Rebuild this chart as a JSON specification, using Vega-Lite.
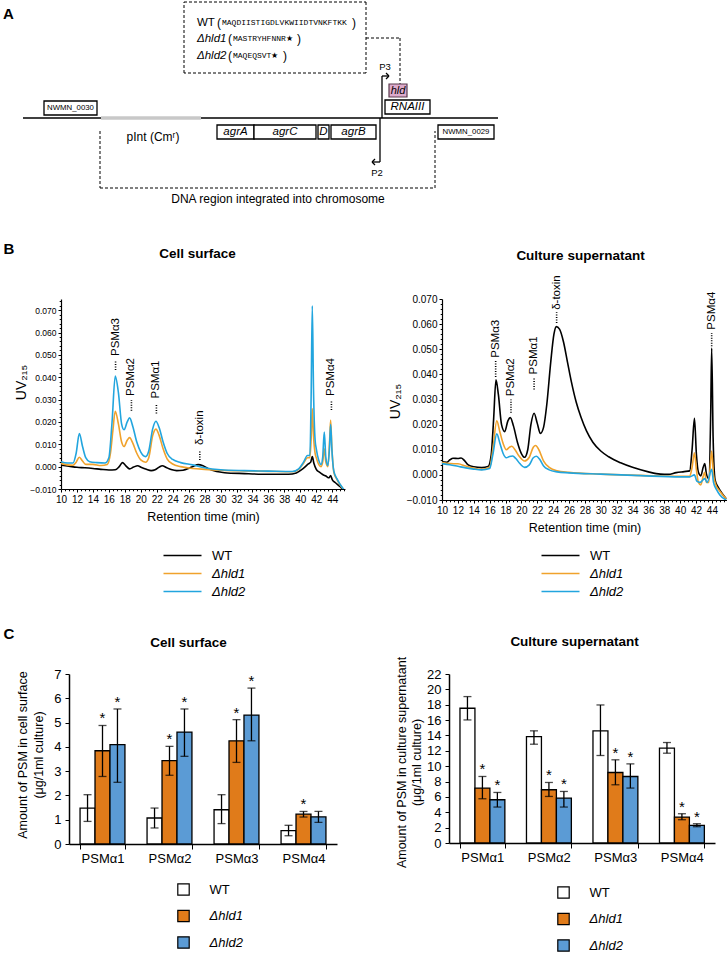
{
"$schema": "https://vega.github.io/schema/vega-lite/v6.json",
"padding": {"left": 3, "top": 0, "right": 0, "bottom": 0},
"spacing": 27,
"config": {
  "font": "Liberation Sans",
  "view": {"stroke": null},
  "axis": {"domainColor": "#000", "tickColor": "#000", "labelColor": "#000", "titleColor": "#000", "grid": false, "titleFontWeight": "normal", "domainWidth": 1.2, "tickWidth": 1, "labelOverlap": false},
  "legend": {"labelColor": "#000", "padding": 0}
},
"datasets": {
  "aSolid": [
    {"x":23,"y":118,"x2":498,"y2":118},
    {"x":380,"y":118,"x2":380,"y2":162},
    {"x":380,"y":162,"x2":372,"y2":162},
    {"x":372,"y":162,"x2":375,"y2":159},
    {"x":372,"y":162,"x2":375,"y2":165},
    {"x":382,"y":118,"x2":382,"y2":76},
    {"x":382,"y":76,"x2":389,"y2":76},
    {"x":389,"y":76,"x2":386,"y2":73},
    {"x":389,"y":76,"x2":386,"y2":79}
  ],
  "aGray": [{"x":101,"y":118,"x2":201,"y2":118}],
  "aDash": [
    {"x":184,"y":2,"x2":366,"y2":2},
    {"x":366,"y":2,"x2":366,"y2":73},
    {"x":366,"y":73,"x2":184,"y2":73},
    {"x":184,"y":73,"x2":184,"y2":2},
    {"x":366,"y":38,"x2":400,"y2":38},
    {"x":400,"y":38,"x2":400,"y2":84},
    {"x":100,"y":131,"x2":100,"y2":188},
    {"x":100,"y":188,"x2":435,"y2":188},
    {"x":435,"y":188,"x2":435,"y2":131}
  ],
  "aLoci": [
    {"x":44,"y":101,"x2":97,"y2":115,"cx":70.5,"cy":108,"name":"NWMN_0030"},
    {"x":438,"y":125,"x2":494,"y2":139,"cx":466,"cy":132,"name":"NWMN_0029"}
  ],
  "aGenes": [
    {"x":217,"y":125,"x2":254,"y2":139,"cx":235.5,"cy":132,"name":"agrA"},
    {"x":254,"y":125,"x2":316,"y2":139,"cx":285,"cy":132,"name":"agrC"},
    {"x":318,"y":125,"x2":329,"y2":139,"cx":323.5,"cy":132,"name":"D"},
    {"x":331,"y":125,"x2":376,"y2":139,"cx":353.5,"cy":132,"name":"agrB"},
    {"x":385,"y":100,"x2":430,"y2":114,"cx":407.5,"cy":107,"name":"RNAIII"}
  ],
  "aHld": [{"x":389,"y":84,"x2":407,"y2":97,"cx":398,"cy":90.5,"name":"hld"}],
  "aBig": [
    {"x":153,"y":137,"text":"pInt (Cmʳ)"},
    {"x":278,"y":199,"text":"DNA region integrated into chromosome"}
  ],
  "aSmall": [
    {"x":385,"y":67,"text":"P3"},
    {"x":377,"y":173,"text":"P2"}
  ],
  "aStrain": [
    {"x":197,"y":23,"text":"WT","kind":"wt"},
    {"x":197,"y":39,"text":"Δhld1","kind":"mut"},
    {"x":197,"y":56,"text":"Δhld2","kind":"mut"}
  ],
  "aParen": [
    {"x":217,"y":23,"text":"("},
    {"x":352,"y":23,"text":")"},
    {"x":228,"y":39,"text":"("},
    {"x":297,"y":39,"text":")"},
    {"x":228,"y":56,"text":"("},
    {"x":283,"y":56,"text":")"}
  ],
  "aSeq": [
    {"x":222,"y":23,"text":"MAQDIISTIGDLVKWIIDTVNKFTKK"},
    {"x":233,"y":39,"text":"MASTRYHFNNR★"},
    {"x":233,"y":56,"text":"MAQEQSVT★"}
  ],
  "aLetter": [{"x":3,"y":14,"text":"A"}],
  "chromL": [
    {"s":"WT","t":10.0,"v":0.0007},{"s":"WT","t":11.0,"v":0.0002},{"s":"WT","t":12.0,"v":-0.0003},{"s":"WT","t":13.0,"v":-0.0005},{"s":"WT","t":14.0,"v":-0.0008},{"s":"WT","t":15.0,"v":-0.0012},{"s":"WT","t":16.0,"v":-0.0015},{"s":"WT","t":16.8,"v":-0.0014},{"s":"WT","t":17.3,"v":0.0},{"s":"WT","t":17.7,"v":0.0018},{"s":"WT","t":18.1,"v":0.0005},{"s":"WT","t":18.6,"v":-0.001},{"s":"WT","t":19.1,"v":-0.0002},{"s":"WT","t":19.6,"v":0.0004},{"s":"WT","t":20.1,"v":-0.0004},{"s":"WT","t":20.7,"v":-0.0012},{"s":"WT","t":21.3,"v":-0.0018},{"s":"WT","t":21.8,"v":-0.0014},{"s":"WT","t":22.3,"v":-0.0002},{"s":"WT","t":22.7,"v":0.0004},{"s":"WT","t":23.2,"v":-0.0004},{"s":"WT","t":23.8,"v":-0.0013},{"s":"WT","t":24.5,"v":-0.0018},{"s":"WT","t":25.3,"v":-0.0016},{"s":"WT","t":26.0,"v":-0.0008},{"s":"WT","t":26.6,"v":0.0002},{"s":"WT","t":27.2,"v":0.0009},{"s":"WT","t":27.8,"v":0.0004},{"s":"WT","t":28.5,"v":-0.001},{"s":"WT","t":29.5,"v":-0.0022},{"s":"WT","t":30.5,"v":-0.0027},{"s":"WT","t":33.0,"v":-0.0031},{"s":"WT","t":36.0,"v":-0.0034},{"s":"WT","t":38.5,"v":-0.0034},{"s":"WT","t":39.5,"v":-0.0028},{"s":"WT","t":40.3,"v":-0.001},{"s":"WT","t":41.0,"v":0.0012},{"s":"WT","t":41.3,"v":0.002},{"s":"WT","t":41.5,"v":0.0045},{"s":"WT","t":41.7,"v":0.0015},{"s":"WT","t":42.0,"v":-0.0012},{"s":"WT","t":42.4,"v":-0.0025},{"s":"WT","t":42.8,"v":-0.0035},{"s":"WT","t":43.2,"v":-0.0042},{"s":"WT","t":43.6,"v":-0.005},{"s":"WT","t":43.8,"v":-0.004},{"s":"WT","t":44.0,"v":-0.0058},{"s":"WT","t":44.4,"v":-0.0072},{"s":"WT","t":45.0,"v":-0.009},{"s":"WT","t":45.5,"v":-0.011},
    {"s":"Δhld1","t":10.0,"v":0.0015},{"s":"Δhld1","t":10.8,"v":0.0008},{"s":"Δhld1","t":11.5,"v":0.0006},{"s":"Δhld1","t":11.9,"v":0.002},{"s":"Δhld1","t":12.3,"v":0.0042},{"s":"Δhld1","t":12.7,"v":0.0025},{"s":"Δhld1","t":13.1,"v":0.001},{"s":"Δhld1","t":14.0,"v":0.001},{"s":"Δhld1","t":15.0,"v":0.0005},{"s":"Δhld1","t":15.8,"v":0.001},{"s":"Δhld1","t":16.2,"v":0.006},{"s":"Δhld1","t":16.5,"v":0.016},{"s":"Δhld1","t":16.8,"v":0.0248},{"s":"Δhld1","t":17.2,"v":0.019},{"s":"Δhld1","t":17.6,"v":0.011},{"s":"Δhld1","t":17.9,"v":0.009},{"s":"Δhld1","t":18.3,"v":0.0118},{"s":"Δhld1","t":18.6,"v":0.013},{"s":"Δhld1","t":19.0,"v":0.0105},{"s":"Δhld1","t":19.5,"v":0.006},{"s":"Δhld1","t":20.0,"v":0.003},{"s":"Δhld1","t":20.6,"v":0.002},{"s":"Δhld1","t":21.0,"v":0.004},{"s":"Δhld1","t":21.5,"v":0.014},{"s":"Δhld1","t":21.9,"v":0.0168},{"s":"Δhld1","t":22.3,"v":0.014},{"s":"Δhld1","t":22.8,"v":0.008},{"s":"Δhld1","t":23.3,"v":0.0035},{"s":"Δhld1","t":24.0,"v":0.0012},{"s":"Δhld1","t":25.0,"v":0.0},{"s":"Δhld1","t":26.5,"v":-0.0008},{"s":"Δhld1","t":28.0,"v":-0.0012},{"s":"Δhld1","t":30.0,"v":-0.0016},{"s":"Δhld1","t":33.0,"v":-0.0019},{"s":"Δhld1","t":36.0,"v":-0.0021},{"s":"Δhld1","t":39.0,"v":-0.0023},{"s":"Δhld1","t":39.8,"v":-0.0012},{"s":"Δhld1","t":40.4,"v":0.0015},{"s":"Δhld1","t":40.9,"v":0.004},{"s":"Δhld1","t":41.2,"v":0.004},{"s":"Δhld1","t":41.35,"v":0.012},{"s":"Δhld1","t":41.5,"v":0.026},{"s":"Δhld1","t":41.65,"v":0.014},{"s":"Δhld1","t":41.85,"v":0.006},{"s":"Δhld1","t":42.0,"v":0.004},{"s":"Δhld1","t":42.3,"v":0.001},{"s":"Δhld1","t":42.6,"v":0.0},{"s":"Δhld1","t":42.8,"v":0.002},{"s":"Δhld1","t":43.0,"v":0.008},{"s":"Δhld1","t":43.2,"v":0.002},{"s":"Δhld1","t":43.45,"v":0.0},{"s":"Δhld1","t":43.65,"v":0.01},{"s":"Δhld1","t":43.8,"v":0.0208},{"s":"Δhld1","t":43.95,"v":0.009},{"s":"Δhld1","t":44.2,"v":-0.0025},{"s":"Δhld1","t":44.6,"v":-0.0058},{"s":"Δhld1","t":45.0,"v":-0.0082},{"s":"Δhld1","t":45.5,"v":-0.0106},
    {"s":"Δhld2","t":10.0,"v":0.0022},{"s":"Δhld2","t":10.8,"v":0.0016},{"s":"Δhld2","t":11.5,"v":0.0016},{"s":"Δhld2","t":11.9,"v":0.006},{"s":"Δhld2","t":12.3,"v":0.0148},{"s":"Δhld2","t":12.7,"v":0.009},{"s":"Δhld2","t":13.1,"v":0.004},{"s":"Δhld2","t":13.6,"v":0.0022},{"s":"Δhld2","t":14.5,"v":0.0018},{"s":"Δhld2","t":15.5,"v":0.0016},{"s":"Δhld2","t":16.0,"v":0.004},{"s":"Δhld2","t":16.4,"v":0.02},{"s":"Δhld2","t":16.8,"v":0.0405},{"s":"Δhld2","t":17.2,"v":0.033},{"s":"Δhld2","t":17.6,"v":0.019},{"s":"Δhld2","t":17.9,"v":0.0165},{"s":"Δhld2","t":18.3,"v":0.02},{"s":"Δhld2","t":18.6,"v":0.0218},{"s":"Δhld2","t":19.0,"v":0.018},{"s":"Δhld2","t":19.5,"v":0.011},{"s":"Δhld2","t":20.0,"v":0.0065},{"s":"Δhld2","t":20.6,"v":0.0045},{"s":"Δhld2","t":21.0,"v":0.007},{"s":"Δhld2","t":21.5,"v":0.017},{"s":"Δhld2","t":21.9,"v":0.0203},{"s":"Δhld2","t":22.3,"v":0.0175},{"s":"Δhld2","t":22.8,"v":0.011},{"s":"Δhld2","t":23.3,"v":0.006},{"s":"Δhld2","t":24.0,"v":0.0032},{"s":"Δhld2","t":25.0,"v":0.0018},{"s":"Δhld2","t":26.5,"v":0.0008},{"s":"Δhld2","t":28.0,"v":-0.0005},{"s":"Δhld2","t":30.0,"v":-0.0014},{"s":"Δhld2","t":33.0,"v":-0.0018},{"s":"Δhld2","t":36.0,"v":-0.002},{"s":"Δhld2","t":39.0,"v":-0.0022},{"s":"Δhld2","t":39.8,"v":-0.001},{"s":"Δhld2","t":40.4,"v":0.002},{"s":"Δhld2","t":40.9,"v":0.005},{"s":"Δhld2","t":41.2,"v":0.005},{"s":"Δhld2","t":41.35,"v":0.03},{"s":"Δhld2","t":41.5,"v":0.072},{"s":"Δhld2","t":41.65,"v":0.035},{"s":"Δhld2","t":41.85,"v":0.012},{"s":"Δhld2","t":42.0,"v":0.008},{"s":"Δhld2","t":42.3,"v":0.003},{"s":"Δhld2","t":42.6,"v":0.001},{"s":"Δhld2","t":42.8,"v":0.004},{"s":"Δhld2","t":43.0,"v":0.0155},{"s":"Δhld2","t":43.2,"v":0.004},{"s":"Δhld2","t":43.45,"v":0.0005},{"s":"Δhld2","t":43.65,"v":0.008},{"s":"Δhld2","t":43.8,"v":0.019},{"s":"Δhld2","t":43.95,"v":0.008},{"s":"Δhld2","t":44.2,"v":-0.002},{"s":"Δhld2","t":44.6,"v":-0.0055},{"s":"Δhld2","t":45.0,"v":-0.008},{"s":"Δhld2","t":45.5,"v":-0.0105}
  ],
  "chromR": [
    {"s":"WT","t":10.0,"v":0.0052},{"s":"WT","t":10.6,"v":0.005},{"s":"WT","t":11.0,"v":0.006},{"s":"WT","t":11.4,"v":0.0066},{"s":"WT","t":12.0,"v":0.0065},{"s":"WT","t":12.4,"v":0.0067},{"s":"WT","t":12.8,"v":0.0058},{"s":"WT","t":13.3,"v":0.004},{"s":"WT","t":14.0,"v":0.0032},{"s":"WT","t":15.0,"v":0.0029},{"s":"WT","t":15.8,"v":0.0033},{"s":"WT","t":16.2,"v":0.008},{"s":"WT","t":16.5,"v":0.022},{"s":"WT","t":16.8,"v":0.0378},{"s":"WT","t":17.1,"v":0.032},{"s":"WT","t":17.5,"v":0.02},{"s":"WT","t":17.9,"v":0.0172},{"s":"WT","t":18.3,"v":0.0215},{"s":"WT","t":18.6,"v":0.0228},{"s":"WT","t":19.0,"v":0.0195},{"s":"WT","t":19.5,"v":0.013},{"s":"WT","t":20.0,"v":0.0085},{"s":"WT","t":20.4,"v":0.007},{"s":"WT","t":20.8,"v":0.01},{"s":"WT","t":21.2,"v":0.02},{"s":"WT","t":21.6,"v":0.0245},{"s":"WT","t":22.0,"v":0.0205},{"s":"WT","t":22.4,"v":0.0165},{"s":"WT","t":22.8,"v":0.019},{"s":"WT","t":23.2,"v":0.028},{"s":"WT","t":23.7,"v":0.045},{"s":"WT","t":24.1,"v":0.056},{"s":"WT","t":24.4,"v":0.059},{"s":"WT","t":24.8,"v":0.058},{"s":"WT","t":25.3,"v":0.053},{"s":"WT","t":25.8,"v":0.045},{"s":"WT","t":26.3,"v":0.037},{"s":"WT","t":26.9,"v":0.029},{"s":"WT","t":27.5,"v":0.023},{"s":"WT","t":28.2,"v":0.0175},{"s":"WT","t":29.0,"v":0.013},{"s":"WT","t":30.0,"v":0.0095},{"s":"WT","t":31.0,"v":0.0072},{"s":"WT","t":32.5,"v":0.0048},{"s":"WT","t":34.0,"v":0.003},{"s":"WT","t":36.0,"v":0.0012},{"s":"WT","t":37.5,"v":0.0003},{"s":"WT","t":38.5,"v":0.0002},{"s":"WT","t":39.5,"v":0.0009},{"s":"WT","t":40.5,"v":0.0013},{"s":"WT","t":41.2,"v":0.0016},{"s":"WT","t":41.5,"v":0.01},{"s":"WT","t":41.8,"v":0.0225},{"s":"WT","t":42.05,"v":0.008},{"s":"WT","t":42.3,"v":0.001},{"s":"WT","t":42.6,"v":-0.0004},{"s":"WT","t":42.9,"v":0.003},{"s":"WT","t":43.1,"v":0.0045},{"s":"WT","t":43.3,"v":0.0005},{"s":"WT","t":43.6,"v":-0.0015},{"s":"WT","t":43.85,"v":0.025},{"s":"WT","t":43.97,"v":0.0505},{"s":"WT","t":44.15,"v":0.015},{"s":"WT","t":44.4,"v":-0.002},{"s":"WT","t":44.8,"v":-0.005},{"s":"WT","t":45.2,"v":-0.007},{"s":"WT","t":45.8,"v":-0.0095},
    {"s":"Δhld1","t":10.0,"v":0.0049},{"s":"Δhld1","t":11.0,"v":0.0045},{"s":"Δhld1","t":12.0,"v":0.0044},{"s":"Δhld1","t":13.0,"v":0.0035},{"s":"Δhld1","t":14.0,"v":0.0027},{"s":"Δhld1","t":15.0,"v":0.0022},{"s":"Δhld1","t":16.0,"v":0.003},{"s":"Δhld1","t":16.4,"v":0.01},{"s":"Δhld1","t":16.9,"v":0.0215},{"s":"Δhld1","t":17.3,"v":0.017},{"s":"Δhld1","t":17.7,"v":0.0125},{"s":"Δhld1","t":18.1,"v":0.01},{"s":"Δhld1","t":18.5,"v":0.011},{"s":"Δhld1","t":18.8,"v":0.0114},{"s":"Δhld1","t":19.2,"v":0.01},{"s":"Δhld1","t":19.7,"v":0.0075},{"s":"Δhld1","t":20.4,"v":0.0055},{"s":"Δhld1","t":21.0,"v":0.007},{"s":"Δhld1","t":21.5,"v":0.011},{"s":"Δhld1","t":21.8,"v":0.0117},{"s":"Δhld1","t":22.2,"v":0.01},{"s":"Δhld1","t":22.8,"v":0.0055},{"s":"Δhld1","t":23.5,"v":0.003},{"s":"Δhld1","t":24.5,"v":0.0016},{"s":"Δhld1","t":26.0,"v":0.001},{"s":"Δhld1","t":30.0,"v":0.0003},{"s":"Δhld1","t":35.0,"v":-0.0002},{"s":"Δhld1","t":40.0,"v":-0.0006},{"s":"Δhld1","t":41.2,"v":-0.0006},{"s":"Δhld1","t":41.5,"v":0.003},{"s":"Δhld1","t":41.8,"v":0.0088},{"s":"Δhld1","t":42.05,"v":0.002},{"s":"Δhld1","t":42.3,"v":-0.003},{"s":"Δhld1","t":42.6,"v":-0.004},{"s":"Δhld1","t":42.9,"v":-0.0005},{"s":"Δhld1","t":43.1,"v":0.001},{"s":"Δhld1","t":43.3,"v":-0.003},{"s":"Δhld1","t":43.6,"v":-0.003},{"s":"Δhld1","t":43.97,"v":0.0095},{"s":"Δhld1","t":44.2,"v":0.0},{"s":"Δhld1","t":44.5,"v":-0.004},{"s":"Δhld1","t":45.0,"v":-0.0065},{"s":"Δhld1","t":45.8,"v":-0.0095},
    {"s":"Δhld2","t":10.0,"v":0.0045},{"s":"Δhld2","t":11.0,"v":0.004},{"s":"Δhld2","t":12.0,"v":0.0034},{"s":"Δhld2","t":13.0,"v":0.0028},{"s":"Δhld2","t":14.0,"v":0.0023},{"s":"Δhld2","t":15.0,"v":0.002},{"s":"Δhld2","t":16.0,"v":0.0025},{"s":"Δhld2","t":16.4,"v":0.008},{"s":"Δhld2","t":16.9,"v":0.0163},{"s":"Δhld2","t":17.3,"v":0.0125},{"s":"Δhld2","t":17.7,"v":0.0085},{"s":"Δhld2","t":18.1,"v":0.0068},{"s":"Δhld2","t":18.5,"v":0.0073},{"s":"Δhld2","t":18.9,"v":0.0075},{"s":"Δhld2","t":19.3,"v":0.0065},{"s":"Δhld2","t":19.8,"v":0.0045},{"s":"Δhld2","t":20.4,"v":0.003},{"s":"Δhld2","t":21.0,"v":0.004},{"s":"Δhld2","t":21.5,"v":0.0068},{"s":"Δhld2","t":21.9,"v":0.0074},{"s":"Δhld2","t":22.3,"v":0.0062},{"s":"Δhld2","t":22.8,"v":0.0035},{"s":"Δhld2","t":23.5,"v":0.002},{"s":"Δhld2","t":24.5,"v":0.0012},{"s":"Δhld2","t":26.0,"v":0.0008},{"s":"Δhld2","t":30.0,"v":0.0003},{"s":"Δhld2","t":35.0,"v":-0.0003},{"s":"Δhld2","t":40.0,"v":-0.0008},{"s":"Δhld2","t":41.2,"v":-0.0008},{"s":"Δhld2","t":41.8,"v":0.0},{"s":"Δhld2","t":42.1,"v":-0.0025},{"s":"Δhld2","t":42.5,"v":-0.003},{"s":"Δhld2","t":43.1,"v":-0.0015},{"s":"Δhld2","t":43.4,"v":-0.003},{"s":"Δhld2","t":43.97,"v":0.0022},{"s":"Δhld2","t":44.2,"v":-0.003},{"s":"Δhld2","t":44.6,"v":-0.006},{"s":"Δhld2","t":45.0,"v":-0.008},{"s":"Δhld2","t":45.8,"v":-0.01}
  ],
  "annL": [
    {"t":16.84,"v":0.0495,"label":"PSMα3"},
    {"t":18.83,"v":0.0316,"label":"PSMα2"},
    {"t":21.96,"v":0.0305,"label":"PSMα1"},
    {"t":27.4,"v":0.0097,"label":"δ-toxin"},
    {"t":43.9,"v":0.0316,"label":"PSMα4"}
  ],
  "leadL": [
    {"t":16.84,"v1":0.0432,"v2":0.0475},
    {"t":18.83,"v1":0.025,"v2":0.0298},
    {"t":21.96,"v1":0.0238,"v2":0.0283},
    {"t":27.4,"v1":0.003,"v2":0.0075},
    {"t":43.9,"v1":0.0253,"v2":0.0298}
  ],
  "annR": [
    {"t":16.76,"v":0.0466,"label":"PSMα3"},
    {"t":18.69,"v":0.0313,"label":"PSMα2"},
    {"t":21.6,"v":0.04,"label":"PSMα1"},
    {"t":24.44,"v":0.0657,"label":"δ-toxin"},
    {"t":43.97,"v":0.0578,"label":"PSMα4"}
  ],
  "leadR": [
    {"t":16.76,"v1":0.039,"v2":0.0456},
    {"t":18.69,"v1":0.0247,"v2":0.03},
    {"t":21.6,"v1":0.034,"v2":0.0386},
    {"t":24.44,"v1":0.0604,"v2":0.0647},
    {"t":43.97,"v1":0.0512,"v2":0.0565}
  ],
  "barsL": [
    {"cat":"PSMα1","s":"WT","mean":1.48,"lo":0.93,"hi":2.03,"sig":false},
    {"cat":"PSMα1","s":"Δhld1","mean":3.84,"lo":2.78,"hi":4.88,"sig":true},
    {"cat":"PSMα1","s":"Δhld2","mean":4.09,"lo":2.54,"hi":5.56,"sig":true},
    {"cat":"PSMα2","s":"WT","mean":1.07,"lo":0.66,"hi":1.48,"sig":false},
    {"cat":"PSMα2","s":"Δhld1","mean":3.43,"lo":2.83,"hi":4.02,"sig":true},
    {"cat":"PSMα2","s":"Δhld2","mean":4.61,"lo":3.61,"hi":5.56,"sig":true},
    {"cat":"PSMα3","s":"WT","mean":1.41,"lo":0.84,"hi":2.03,"sig":false},
    {"cat":"PSMα3","s":"Δhld1","mean":4.25,"lo":3.36,"hi":5.12,"sig":true},
    {"cat":"PSMα3","s":"Δhld2","mean":5.31,"lo":4.25,"hi":6.42,"sig":true},
    {"cat":"PSMα4","s":"WT","mean":0.55,"lo":0.34,"hi":0.77,"sig":false},
    {"cat":"PSMα4","s":"Δhld1","mean":1.23,"lo":1.11,"hi":1.34,"sig":true},
    {"cat":"PSMα4","s":"Δhld2","mean":1.12,"lo":0.89,"hi":1.34,"sig":false}
  ],
  "barsR": [
    {"cat":"PSMα1","s":"WT","mean":17.54,"lo":16.02,"hi":19.06,"sig":false},
    {"cat":"PSMα1","s":"Δhld1","mean":7.15,"lo":5.76,"hi":8.66,"sig":true},
    {"cat":"PSMα1","s":"Δhld2","mean":5.63,"lo":4.68,"hi":6.58,"sig":true},
    {"cat":"PSMα2","s":"WT","mean":13.86,"lo":12.86,"hi":14.6,"sig":false},
    {"cat":"PSMα2","s":"Δhld1","mean":6.93,"lo":6.06,"hi":7.88,"sig":true},
    {"cat":"PSMα2","s":"Δhld2","mean":5.85,"lo":4.68,"hi":6.71,"sig":true},
    {"cat":"PSMα3","s":"WT","mean":14.6,"lo":11.39,"hi":17.97,"sig":false},
    {"cat":"PSMα3","s":"Δhld1","mean":9.18,"lo":7.58,"hi":10.83,"sig":true},
    {"cat":"PSMα3","s":"Δhld2","mean":8.66,"lo":7.15,"hi":10.3,"sig":true},
    {"cat":"PSMα4","s":"WT","mean":12.34,"lo":11.69,"hi":13.08,"sig":false},
    {"cat":"PSMα4","s":"Δhld1","mean":3.38,"lo":3.03,"hi":3.81,"sig":true},
    {"cat":"PSMα4","s":"Δhld2","mean":2.3,"lo":2.12,"hi":2.51,"sig":true}
  ]
},
"vconcat": [
  {
    "width": 666, "height": 214,
    "layer": [
      {"data": {"name": "aDash"}, "mark": {"type": "rule", "strokeDash": [3, 2], "strokeWidth": 1, "color": "#000"},
       "encoding": {"x": {"field": "x", "type": "quantitative", "scale": {"domain": [61, 727], "nice": false, "zero": false}, "axis": null}, "y": {"field": "y", "type": "quantitative", "scale": {"domain": [0, 214], "nice": false, "zero": false, "reverse": true}, "axis": null}, "x2": {"field": "x2"}, "y2": {"field": "y2"}}},
      {"data": {"name": "aSolid"}, "mark": {"type": "rule", "strokeWidth": 1.3, "color": "#000"},
       "encoding": {"x": {"field": "x", "type": "quantitative"}, "y": {"field": "y", "type": "quantitative"}, "x2": {"field": "x2"}, "y2": {"field": "y2"}}},
      {"data": {"name": "aGray"}, "mark": {"type": "rule", "strokeWidth": 3.5, "color": "#c8c8c8"},
       "encoding": {"x": {"field": "x", "type": "quantitative"}, "y": {"field": "y", "type": "quantitative"}, "x2": {"field": "x2"}, "y2": {"field": "y2"}}},
      {"data": {"name": "aLoci"}, "mark": {"type": "rect", "fill": "#fff", "stroke": "#000", "strokeWidth": 1.3},
       "encoding": {"x": {"field": "x", "type": "quantitative"}, "y": {"field": "y", "type": "quantitative"}, "x2": {"field": "x2"}, "y2": {"field": "y2"}}},
      {"data": {"name": "aGenes"}, "mark": {"type": "rect", "fill": "#fff", "stroke": "#000", "strokeWidth": 1.3},
       "encoding": {"x": {"field": "x", "type": "quantitative"}, "y": {"field": "y", "type": "quantitative"}, "x2": {"field": "x2"}, "y2": {"field": "y2"}}},
      {"data": {"name": "aHld"}, "mark": {"type": "rect", "fill": "#dcaacb", "stroke": "#5a3a4e", "strokeWidth": 1.2},
       "encoding": {"x": {"field": "x", "type": "quantitative"}, "y": {"field": "y", "type": "quantitative"}, "x2": {"field": "x2"}, "y2": {"field": "y2"}}},
      {"data": {"name": "aLoci"}, "mark": {"type": "text", "fontSize": 7.8, "align": "center", "baseline": "middle", "color": "#000"},
       "encoding": {"x": {"field": "cx", "type": "quantitative"}, "y": {"field": "cy", "type": "quantitative"}, "text": {"field": "name"}}},
      {"data": {"name": "aGenes"}, "mark": {"type": "text", "fontSize": 11.5, "fontStyle": "italic", "align": "center", "baseline": "middle", "color": "#000"},
       "encoding": {"x": {"field": "cx", "type": "quantitative"}, "y": {"field": "cy", "type": "quantitative"}, "text": {"field": "name"}}},
      {"data": {"name": "aHld"}, "mark": {"type": "text", "fontSize": 11, "fontStyle": "italic", "align": "center", "baseline": "middle", "color": "#000"},
       "encoding": {"x": {"field": "cx", "type": "quantitative"}, "y": {"field": "cy", "type": "quantitative"}, "text": {"field": "name"}}},
      {"data": {"name": "aBig"}, "mark": {"type": "text", "fontSize": 12, "align": "center", "baseline": "middle", "color": "#000"},
       "encoding": {"x": {"field": "x", "type": "quantitative"}, "y": {"field": "y", "type": "quantitative"}, "text": {"field": "text"}}},
      {"data": {"name": "aSmall"}, "mark": {"type": "text", "fontSize": 9.5, "align": "center", "baseline": "middle", "color": "#000"},
       "encoding": {"x": {"field": "x", "type": "quantitative"}, "y": {"field": "y", "type": "quantitative"}, "text": {"field": "text"}}},
      {"data": {"name": "aStrain"}, "transform": [{"filter": "datum.kind == 'wt'"}], "mark": {"type": "text", "fontSize": 11.5, "align": "left", "baseline": "middle", "color": "#000"},
       "encoding": {"x": {"field": "x", "type": "quantitative"}, "y": {"field": "y", "type": "quantitative"}, "text": {"field": "text"}}},
      {"data": {"name": "aStrain"}, "transform": [{"filter": "datum.kind == 'mut'"}], "mark": {"type": "text", "fontSize": 11.5, "fontStyle": "italic", "align": "left", "baseline": "middle", "color": "#000"},
       "encoding": {"x": {"field": "x", "type": "quantitative"}, "y": {"field": "y", "type": "quantitative"}, "text": {"field": "text"}}},
      {"data": {"name": "aParen"}, "mark": {"type": "text", "fontSize": 12, "align": "left", "baseline": "middle", "color": "#000"},
       "encoding": {"x": {"field": "x", "type": "quantitative"}, "y": {"field": "y", "type": "quantitative"}, "text": {"field": "text"}}},
      {"data": {"name": "aSeq"}, "mark": {"type": "text", "font": "Liberation Mono", "fontSize": 8, "align": "left", "baseline": "middle", "color": "#000"},
       "encoding": {"x": {"field": "x", "type": "quantitative"}, "y": {"field": "y", "type": "quantitative"}, "text": {"field": "text"}}},
      {"data": {"name": "aLetter"}, "mark": {"type": "text", "fontSize": 15, "fontWeight": "bold", "align": "left", "baseline": "middle", "color": "#000"},
       "encoding": {"x": {"field": "x", "type": "quantitative"}, "y": {"field": "y", "type": "quantitative"}, "text": {"field": "text"}}}
    ]
  },
  {
    "spacing": 43,
    "resolve": {"scale": {"color": "independent"}, "legend": {"color": "independent"}},
    "hconcat": [
      {
        "width": 284, "height": 190,
        "resolve": {"axis": {"x": "independent", "y": "independent"}},
        "layer": [
          {"data": {"name": "chromL"},
           "mark": {"type": "line", "strokeWidth": 1.6, "interpolate": "monotone", "clip": true},
           "encoding": {
             "x": {"field": "t", "type": "quantitative", "scale": {"domain": [10, 45.6], "nice": false, "zero": false},
                   "axis": {"orient": "bottom", "values": [10,12,14,16,18,20,22,24,26,28,30,32,34,36,38,40,42,44], "labelFlush": false, "labelOverlap": false, "title": "Retention time (min)", "labelFontSize": 10, "titleFontSize": 12.5, "tickSize": 3, "labelPadding": 2, "titlePadding": 6}},
             "y": {"field": "v", "type": "quantitative", "scale": {"domain": [-0.01, 0.075], "nice": false, "zero": false},
                   "axis": {"orient": "left", "values": [-0.01,0,0.01,0.02,0.03,0.04,0.05,0.06,0.07], "labelOverlap": false, "format": ".3f", "title": "UV₂₁₅", "titleFontSize": 14, "labelFontSize": 8.5, "tickSize": 3, "labelPadding": 2, "titleX": -39.5, "titleY": 83, "titleAlign": "center", "titleBaseline": "middle"}},
             "color": {"field": "s", "type": "nominal", "sort": null, "scale": {"domain": ["WT","Δhld1","Δhld2"], "range": ["#000000","#f0a22c","#22a5de"]},
                       "legend": {"orient": "none", "legendX": 115, "legendY": 250, "title": null, "symbolType": "M-3.8,0L3.8,0", "symbolSize": 100, "symbolStrokeWidth": 1.6, "labelFontSize": 13, "labelOffset": 23, "rowPadding": 4,
                                  "encode": {"labels": {"update": {"fontStyle": {"signal": "datum.label === 'WT' ? 'normal' : 'italic'"}}}}}}
           }},
          {"data": {"name": "leadL"},
           "mark": {"type": "rule", "strokeDash": [1, 1.5], "strokeWidth": 1.6, "color": "#000"},
           "encoding": {
             "x": {"field": "t", "type": "quantitative", "axis": {"orient": "bottom", "values": [10.5,11,11.5,12,12.5,13,13.5,14,14.5,15,15.5,16,16.5,17,17.5,18,18.5,19,19.5,20,20.5,21,21.5,22,22.5,23,23.5,24,24.5,25,25.5,26,26.5,27,27.5,28,28.5,29,29.5,30,30.5,31,31.5,32,32.5,33,33.5,34,34.5,35,35.5,36,36.5,37,37.5,38,38.5,39,39.5,40,40.5,41,41.5,42,42.5,43,43.5,44,44.5,45,45.5], "labels": false, "title": null, "domain": false, "tickSize": 1.8}},
             "y": {"field": "v1", "type": "quantitative", "axis": {"orient": "left", "values": [-0.008,-0.006,-0.004,-0.002,0.002,0.004,0.006,0.008,0.012,0.014,0.016,0.018,0.022,0.024,0.026,0.028,0.032,0.034,0.036,0.038,0.042,0.044,0.046,0.048,0.052,0.054,0.056,0.058,0.062,0.064,0.066,0.068,0.072,0.074], "labels": false, "domain": false, "tickSize": 1.8,
                   "title": "B", "titleFontSize": 15, "titleFontWeight": "bold", "titleAngle": 0, "titleX": -58, "titleY": -51, "titleAlign": "left", "titleBaseline": "middle"}},
             "y2": {"field": "v2"}
           }},
          {"data": {"name": "annL"},
           "mark": {"type": "text", "angle": 270, "align": "left", "baseline": "middle", "fontSize": 11.5, "color": "#000"},
           "encoding": {
             "x": {"field": "t", "type": "quantitative", "axis": {"orient": "top", "labels": false, "ticks": false, "domain": false, "title": "Cell surface", "titleFontSize": 13.5, "titleFontWeight": "bold", "titleX": 136, "titleY": -46, "titleAlign": "center", "titleBaseline": "middle"}},
             "y": {"field": "v", "type": "quantitative", "axis": null}, "text": {"field": "label"}}}
        ]
      },
      {
        "width": 285, "height": 201,
        "resolve": {"axis": {"x": "independent", "y": "independent"}},
        "layer": [
          {"data": {"name": "chromR"},
           "mark": {"type": "line", "strokeWidth": 1.6, "interpolate": "monotone", "clip": true},
           "encoding": {
             "x": {"field": "t", "type": "quantitative", "scale": {"domain": [10, 45.9], "nice": false, "zero": false},
                   "axis": {"orient": "bottom", "values": [10,12,14,16,18,20,22,24,26,28,30,32,34,36,38,40,42,44], "labelFlush": false, "labelOverlap": false, "title": "Retention time (min)", "labelFontSize": 10, "titleFontSize": 12.5, "tickSize": 3, "labelPadding": 2, "titlePadding": 6}},
             "y": {"field": "v", "type": "quantitative", "scale": {"domain": [-0.01, 0.07], "nice": false, "zero": false},
                   "axis": {"orient": "left", "values": [-0.01,0,0.01,0.02,0.03,0.04,0.05,0.06,0.07], "labelOverlap": false, "format": ".3f", "title": "UV₂₁₅", "titleFontSize": 14, "labelFontSize": 10, "tickSize": 3, "labelPadding": 2, "titleX": -47, "titleY": 102, "titleAlign": "center", "titleBaseline": "middle"}},
             "color": {"field": "s", "type": "nominal", "sort": null, "scale": {"domain": ["WT","Δhld1","Δhld2"], "range": ["#000000","#f0a22c","#22a5de"]},
                       "legend": {"orient": "none", "legendX": 112, "legendY": 250, "title": null, "symbolType": "M-3.8,0L3.8,0", "symbolSize": 100, "symbolStrokeWidth": 1.6, "labelFontSize": 13, "labelOffset": 23, "rowPadding": 4,
                                  "encode": {"labels": {"update": {"fontStyle": {"signal": "datum.label === 'WT' ? 'normal' : 'italic'"}}}}}}
           }},
          {"data": {"name": "leadR"},
           "mark": {"type": "rule", "strokeDash": [1, 1.5], "strokeWidth": 1.6, "color": "#000"},
           "encoding": {
             "x": {"field": "t", "type": "quantitative", "axis": {"orient": "bottom", "values": [10.5,11,11.5,12,12.5,13,13.5,14,14.5,15,15.5,16,16.5,17,17.5,18,18.5,19,19.5,20,20.5,21,21.5,22,22.5,23,23.5,24,24.5,25,25.5,26,26.5,27,27.5,28,28.5,29,29.5,30,30.5,31,31.5,32,32.5,33,33.5,34,34.5,35,35.5,36,36.5,37,37.5,38,38.5,39,39.5,40,40.5,41,41.5,42,42.5,43,43.5,44,44.5,45,45.5], "labels": false, "title": null, "domain": false, "tickSize": 1.8}},
             "y": {"field": "v1", "type": "quantitative", "axis": {"orient": "left", "values": [-0.008,-0.006,-0.004,-0.002,0.002,0.004,0.006,0.008,0.012,0.014,0.016,0.018,0.022,0.024,0.026,0.028,0.032,0.034,0.036,0.038,0.042,0.044,0.046,0.048,0.052,0.054,0.056,0.058,0.062,0.064,0.066,0.068], "labels": false, "title": null, "domain": false, "tickSize": 1.8}},
             "y2": {"field": "v2"}
           }},
          {"data": {"name": "annR"},
           "mark": {"type": "text", "angle": 270, "align": "left", "baseline": "middle", "fontSize": 11.5, "color": "#000"},
           "encoding": {
             "x": {"field": "t", "type": "quantitative", "axis": {"orient": "top", "labels": false, "ticks": false, "domain": false, "title": "Culture supernatant", "titleFontSize": 13.5, "titleFontWeight": "bold", "titleX": 138, "titleY": -44, "titleAlign": "center", "titleBaseline": "middle"}},
             "y": {"field": "v", "type": "quantitative", "axis": null}, "text": {"field": "label"}}}
        ]
      }
    ]
  },
  {
    "spacing": 57,
    "resolve": {"scale": {"fill": "independent"}, "legend": {"fill": "independent"}},
    "hconcat": [
      {
        "width": 276, "height": 170,
        "data": {"name": "barsL"},
        "resolve": {"axis": {"x": "independent", "y": "independent"}},
        "layer": [
          {"mark": {"type": "bar", "stroke": "#000", "strokeWidth": 1.3},
           "encoding": {
             "x": {"field": "cat", "type": "nominal", "sort": null, "scale": {"range": [8, 276], "paddingInner": 0.33, "paddingOuter": 0.165},
                   "axis": {"orient": "bottom", "title": null, "labelAngle": 0, "labelFontSize": 13, "tickBand": "extent", "tickSize": 5, "labelPadding": 3, "domainWidth": 1.5}},
             "xOffset": {"field": "s", "type": "nominal", "sort": null, "scale": {"domain": ["WT","Δhld1","Δhld2"], "paddingInner": 0, "paddingOuter": 0}},
             "y": {"field": "mean", "type": "quantitative", "scale": {"domain": [0, 7], "nice": false},
                   "axis": {"orient": "left", "offset": -8, "values": [0,1,2,3,4,5,6,7], "labelOverlap": false, "labelFontSize": 13, "tickSize": 4, "labelPadding": 4, "domainWidth": 1.5, "title": ["Amount of PSM in cell surface", "(μg/1ml culture)"], "titleFontSize": 12.5, "titleLineHeight": 15.5, "titleX": -46.5, "titleY": 80.5, "titleAlign": "center", "titleBaseline": "middle"}},
             "fill": {"field": "s", "type": "nominal", "sort": null, "scale": {"domain": ["WT","Δhld1","Δhld2"], "range": ["#ffffff","#e07b1a","#5b9bd5"]},
                      "legend": {"orient": "none", "legendX": 116, "legendY": 209, "title": null, "symbolType": "square", "symbolSize": 130, "symbolStrokeColor": "#000", "symbolStrokeWidth": 1.2, "labelFontSize": 13, "labelOffset": 19.6, "rowPadding": 9.5,
                                 "encode": {"labels": {"update": {"fontStyle": {"signal": "datum.label === 'WT' ? 'normal' : 'italic'"}}}}}}
           }},
          {"mark": {"type": "rule", "strokeWidth": 1.3, "color": "#000"},
           "encoding": {
             "x": {"field": "cat", "type": "nominal", "sort": null, "axis": {"orient": "top", "labels": false, "ticks": false, "domain": false, "title": "Cell surface", "titleFontSize": 13.5, "titleFontWeight": "bold", "titleX": 127, "titleY": -32, "titleAlign": "center", "titleBaseline": "middle"}},
             "xOffset": {"field": "s", "type": "nominal", "sort": null},
             "y": {"field": "lo", "type": "quantitative", "axis": {"orient": "left", "labels": false, "ticks": false, "domain": false, "title": "C", "titleFontSize": 15, "titleFontWeight": "bold", "titleAngle": 0, "titleX": -58, "titleY": -41, "titleAlign": "left", "titleBaseline": "middle"}},
             "y2": {"field": "hi"}}},
          {"mark": {"type": "tick", "size": 8, "thickness": 1.3, "color": "#000"},
           "encoding": {"x": {"field": "cat", "type": "nominal", "sort": null, "axis": null}, "xOffset": {"field": "s", "type": "nominal", "sort": null}, "y": {"field": "hi", "type": "quantitative", "axis": null}}},
          {"mark": {"type": "tick", "size": 8, "thickness": 1.3, "color": "#000"},
           "encoding": {"x": {"field": "cat", "type": "nominal", "sort": null, "axis": null}, "xOffset": {"field": "s", "type": "nominal", "sort": null}, "y": {"field": "lo", "type": "quantitative", "axis": null}}},
          {"transform": [{"filter": "datum.sig"}],
           "mark": {"type": "text", "text": "*", "fontSize": 15, "baseline": "alphabetic", "dy": -2, "color": "#000"},
           "encoding": {"x": {"field": "cat", "type": "nominal", "sort": null, "axis": null}, "xOffset": {"field": "s", "type": "nominal", "sort": null}, "y": {"field": "hi", "type": "quantitative", "axis": null}}}
        ]
      },
      {
        "width": 266, "height": 169,
        "data": {"name": "barsR"},
        "resolve": {"axis": {"x": "independent", "y": "independent"}},
        "layer": [
          {"mark": {"type": "bar", "stroke": "#000", "strokeWidth": 1.3},
           "encoding": {
             "x": {"field": "cat", "type": "nominal", "sort": null, "scale": {"paddingInner": 0.33, "paddingOuter": 0.165},
                   "axis": {"orient": "bottom", "title": null, "labelAngle": 0, "labelFontSize": 13, "tickBand": "extent", "tickSize": 5, "labelPadding": 3, "domainWidth": 1.5}},
             "xOffset": {"field": "s", "type": "nominal", "sort": null, "scale": {"domain": ["WT","Δhld1","Δhld2"], "paddingInner": 0, "paddingOuter": 0}},
             "y": {"field": "mean", "type": "quantitative", "scale": {"domain": [0, 22], "nice": false},
                   "axis": {"orient": "left", "values": [0,2,4,6,8,10,12,14,16,18,20,22], "labelOverlap": false, "labelFontSize": 13, "tickSize": 4, "labelPadding": 4, "domainWidth": 1.5, "title": ["Amount of PSM in culture supernatant", "(μg/1ml culture)"], "titleFontSize": 12.5, "titleLineHeight": 15.5, "titleX": -48, "titleY": 88, "titleAlign": "center", "titleBaseline": "middle"}},
             "fill": {"field": "s", "type": "nominal", "sort": null, "scale": {"domain": ["WT","Δhld1","Δhld2"], "range": ["#ffffff","#e07b1a","#5b9bd5"]},
                      "legend": {"orient": "none", "legendX": 108, "legendY": 212, "title": null, "symbolType": "square", "symbolSize": 130, "symbolStrokeColor": "#000", "symbolStrokeWidth": 1.2, "labelFontSize": 13, "labelOffset": 19.6, "rowPadding": 9.5,
                                 "encode": {"labels": {"update": {"fontStyle": {"signal": "datum.label === 'WT' ? 'normal' : 'italic'"}}}}}}
           }},
          {"mark": {"type": "rule", "strokeWidth": 1.3, "color": "#000"},
           "encoding": {
             "x": {"field": "cat", "type": "nominal", "sort": null, "axis": {"orient": "top", "labels": false, "ticks": false, "domain": false, "title": "Culture supernatant", "titleFontSize": 13.5, "titleFontWeight": "bold", "titleX": 125, "titleY": -33, "titleAlign": "center", "titleBaseline": "middle"}},
             "xOffset": {"field": "s", "type": "nominal", "sort": null},
             "y": {"field": "lo", "type": "quantitative", "axis": null},
             "y2": {"field": "hi"}}},
          {"mark": {"type": "tick", "size": 8, "thickness": 1.3, "color": "#000"},
           "encoding": {"x": {"field": "cat", "type": "nominal", "sort": null, "axis": null}, "xOffset": {"field": "s", "type": "nominal", "sort": null}, "y": {"field": "hi", "type": "quantitative", "axis": null}}},
          {"mark": {"type": "tick", "size": 8, "thickness": 1.3, "color": "#000"},
           "encoding": {"x": {"field": "cat", "type": "nominal", "sort": null, "axis": null}, "xOffset": {"field": "s", "type": "nominal", "sort": null}, "y": {"field": "lo", "type": "quantitative", "axis": null}}},
          {"transform": [{"filter": "datum.sig"}],
           "mark": {"type": "text", "text": "*", "fontSize": 15, "baseline": "alphabetic", "dy": -2, "color": "#000"},
           "encoding": {"x": {"field": "cat", "type": "nominal", "sort": null, "axis": null}, "xOffset": {"field": "s", "type": "nominal", "sort": null}, "y": {"field": "hi", "type": "quantitative", "axis": null}}}
        ]
      }
    ]
  }
]
}
